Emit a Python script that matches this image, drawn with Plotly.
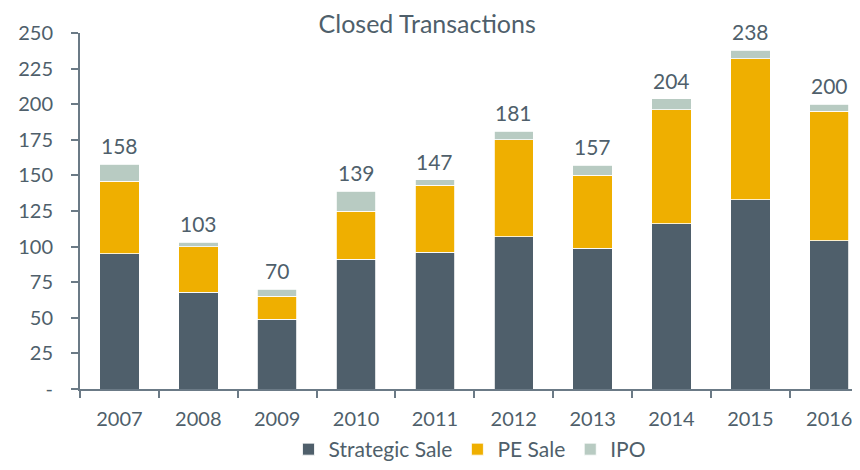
import plotly.graph_objects as go

anos = ["2007", "2008", "2009", "2010", "2011", "2012", "2013", "2014", "2015", "2016"]
strategic_sale = [95, 68, 49, 91, 96, 107, 99, 116, 133, 104]
pe_sale = [51, 32, 16, 34, 47, 68, 51, 80, 99, 91]
ipo = [12, 3, 5, 14, 4, 6, 7, 8, 6, 5]
totais = [158, 103, 70, 139, 147, 181, 157, 204, 238, 200]

COR_TEXTO = "#4f5f6b"
COR_EIXO = "#6b7a86"
COLOR_MAP = {
    "Strategic Sale": "#4f5f6b",
    "PE Sale": "#efaf00",
    "IPO": "#b8cbc2",
}
FONTE = "Lato, Open Sans, sans-serif"

fig = go.Figure()

for nome, valores in [("Strategic Sale", strategic_sale), ("PE Sale", pe_sale), ("IPO", ipo)]:
    fig.add_trace(go.Bar(
        x=anos,
        y=valores,
        name=nome,
        marker=dict(color=COLOR_MAP[nome], line=dict(color="white", width=0.8)),
    ))

# rotulos de total acima das barras (x pelo indice da categoria,
# senao "2007" vira numero no eixo de categorias)
for i, total in enumerate(totais):
    fig.add_annotation(
        x=i, y=total,
        text=str(total),
        showarrow=False,
        yanchor="bottom",
        yshift=4,
        font=dict(size=21, color=COR_TEXTO, family=FONTE),
    )

# a pagina tem margem de 8px no body, por isso a figura e um pouco menor
fig.update_layout(
    barmode="stack",
    bargap=0.5,
    width=852,
    height=462,
    plot_bgcolor="white",
    paper_bgcolor="white",
    font=dict(family=FONTE, size=20, color=COR_TEXTO),
    title=dict(
        text="Closed Transactions",
        x=0.492, xanchor="center",
        y=0.965, yanchor="middle",
        pad=dict(t=0, b=0),
        font=dict(size=25, color=COR_TEXTO, family=FONTE),
    ),
    margin=dict(l=72, r=0, t=25, b=81),
    legend=dict(
        orientation="h",
        x=0.5, xanchor="center",
        yref="container",
        y=0.0, yanchor="bottom",
        font=dict(size=21, color=COR_TEXTO),
        traceorder="normal",
        itemwidth=30,
    ),
    xaxis=dict(
        type="category",
        range=[-0.5, 9.39],
        automargin=False,
        showline=True,
        linecolor=COR_EIXO,
        linewidth=2,
        ticks="outside",
        tickson="boundaries",
        ticklen=7,
        tickwidth=2,
        tickcolor=COR_EIXO,
        ticklabelstandoff=11,
        showgrid=False,
        tickfont=dict(size=20, color=COR_TEXTO),
    ),
    yaxis=dict(
        range=[0, 250],
        automargin=False,
        tickvals=[0, 25, 50, 75, 100, 125, 150, 175, 200, 225, 250],
        ticktext=["-", "25", "50", "75", "100", "125", "150", "175", "200", "225", "250"],
        showline=True,
        linecolor=COR_EIXO,
        linewidth=2,
        ticks="outside",
        ticklen=7,
        tickwidth=2,
        tickcolor=COR_EIXO,
        ticklabelstandoff=14,
        showgrid=False,
        zeroline=False,
        tickfont=dict(size=20, color=COR_TEXTO),
    ),
)

fig.write_html("out.html")
